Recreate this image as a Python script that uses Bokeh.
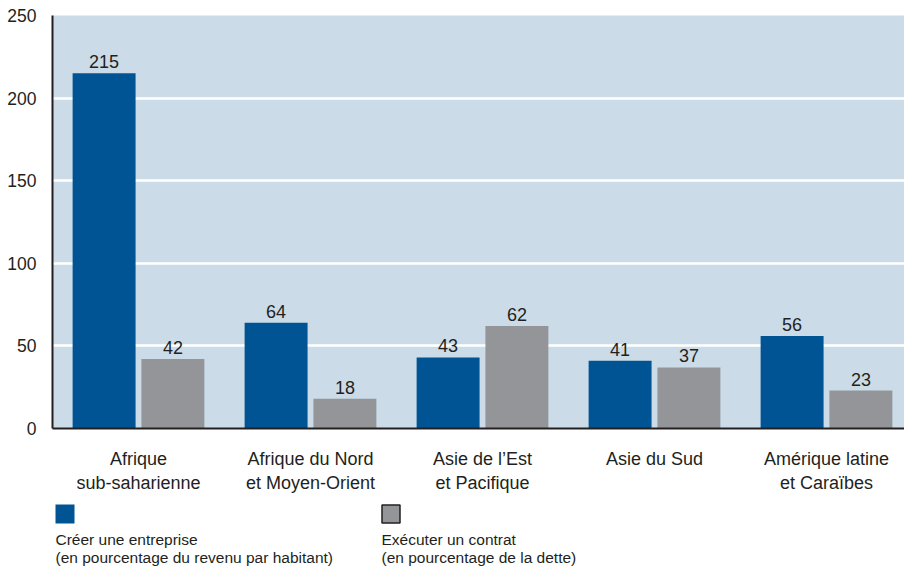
from bokeh.plotting import figure
from bokeh.models import Range1d, FixedTicker, ColumnDataSource
from bokeh.layouts import column
from bokeh.embed import file_html
from bokeh.resources import INLINE
from bokeh.core.properties import value

categories = ["Afrique\nsub-saharienne", "Afrique du Nord\net Moyen-Orient",
              "Asie de l\u2019Est\net Pacifique", "Asie du Sud",
              "Am\u00e9rique latine\net Cara\u00efbes"]
creer = [215, 64, 43, 41, 56]
executer = [42, 18, 62, 37, 23]
series_names = ["Cr\u00e9er une entreprise", "Ex\u00e9cuter un contrat"]
series_notes = ["(en pourcentage du revenu par habitant)", "(en pourcentage de la dette)"]
y_ticks = [0, 50, 100, 150, 200, 250]

BLUE = "#005493"
GRAY = "#939598"
BG = "#cbdce8"
TXT = "#231f20"
FONT = "Liberation Sans"

centers = [i + 0.5 for i in range(len(categories))]
xb = [c - 0.2 for c in centers]
xg = [c + 0.2 for c in centers]

p = figure(width=904, height=500, output_backend="svg", toolbar_location=None,
           x_range=Range1d(0, 852 / 172), y_range=Range1d(0, 250),
           min_border_left=52, min_border_right=0, min_border_top=15, min_border_bottom=72)
p.background_fill_color = BG
p.border_fill_color = "white"
p.outline_line_color = None

src_b = ColumnDataSource(dict(x=xb, top=creer, lab=[str(v) for v in creer]))
src_g = ColumnDataSource(dict(x=xg, top=executer, lab=[str(v) for v in executer]))
p.vbar(x="x", top="top", width=0.366, bottom=0, source=src_b, color=BLUE, line_color=None)
p.vbar(x="x", top="top", width=0.366, bottom=0, source=src_g, color=GRAY, line_color=None)
for s in (src_b, src_g):
    p.text(x="x", y="top", text="lab", source=s, text_align="center", text_baseline="bottom",
           y_offset=-5, text_font=value(FONT), text_font_size="18px", text_color=TXT)

p.xgrid.grid_line_color = None
p.ygrid.grid_line_color = "white"
p.ygrid.grid_line_width = 2.5
p.ygrid.ticker = FixedTicker(ticks=y_ticks)

p.yaxis.ticker = FixedTicker(ticks=y_ticks)
p.yaxis.major_tick_line_color = None
p.yaxis.minor_tick_line_color = None
p.yaxis.axis_line_color = TXT
p.yaxis.axis_line_width = 2
p.yaxis.major_label_text_font = FONT
p.yaxis.major_label_text_font_size = "17.5px"
p.yaxis.major_label_text_color = TXT
p.yaxis.major_label_standoff = 10

p.xaxis.ticker = FixedTicker(ticks=centers)
p.xaxis.major_label_overrides = {c: lab for c, lab in zip(centers, categories)}
p.xaxis.major_tick_line_color = None
p.xaxis.minor_tick_line_color = None
p.xaxis.axis_line_color = TXT
p.xaxis.axis_line_width = 2
p.xaxis.major_label_text_font = FONT
p.xaxis.major_label_text_font_size = "18px"
p.xaxis.major_label_text_color = TXT
p.xaxis.major_label_standoff = 14

# legend panel (frame aligned with the chart frame: x 52..904 px)
lg = figure(width=904, height=66, output_backend="svg", toolbar_location=None,
            x_range=Range1d(52, 904), y_range=Range1d(566, 500),
            min_border=0, min_border_left=52, min_border_right=0, min_border_top=0, min_border_bottom=0)
lg.axis.visible = False
lg.grid.visible = False
lg.outline_line_color = None
lg.background_fill_color = "white"
leg_x = [55, 381]
lg.rect(x=[leg_x[0] + 9.5], y=[513.5], width=19, height=19, color=BLUE, line_color=None)
lg.rect(x=[leg_x[1] + 9.5], y=[513.5], width=18, height=18, fill_color=GRAY, line_color=TXT, line_width=1.5)
lg.text(x=leg_x, y=[538.5, 538.5], text=series_names, text_baseline="middle",
        text_font=value(FONT), text_font_size="15.5px", text_color=TXT)
lg.text(x=leg_x, y=[556.5, 556.5], text=series_notes, text_baseline="middle",
        text_font=value(FONT), text_font_size="15.5px", text_color=TXT)

layout = column(p, lg, spacing=0)
open("out.html", "w").write(file_html(layout, INLINE))
